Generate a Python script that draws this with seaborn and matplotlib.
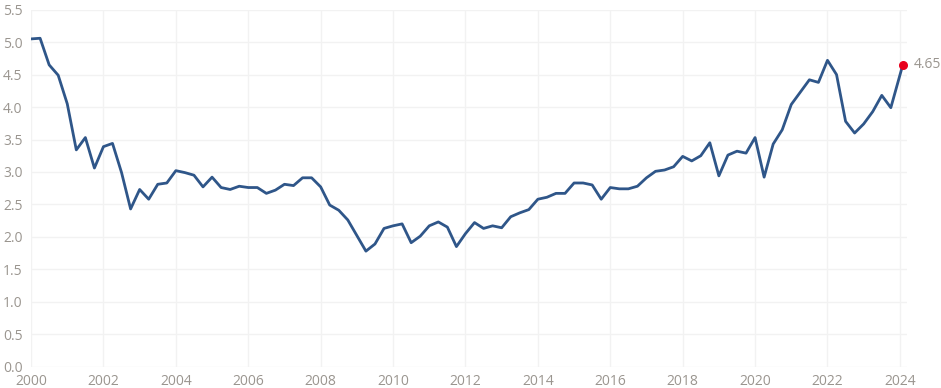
import numpy as np
import pandas as pd
import matplotlib
matplotlib.use("Agg")
import matplotlib.pyplot as plt
import matplotlib.ticker as mticker
import seaborn as sns

# Quarterly values, 2000 Q1 to 2023 Q4, plus the latest reading
values = [
    5.05, 5.06, 4.65, 4.49, 4.05, 3.34, 3.53, 3.06,
    3.39, 3.44, 2.99, 2.43, 2.73, 2.58, 2.81, 2.83,
    3.02, 2.99, 2.95, 2.77, 2.92, 2.76, 2.73, 2.78,
    2.76, 2.76, 2.67, 2.72, 2.81, 2.79, 2.91, 2.91,
    2.77, 2.49, 2.41, 2.26, 2.02, 1.78, 1.89, 2.13,
    2.17, 2.20, 1.91, 2.01, 2.17, 2.23, 2.15, 1.85,
    2.05, 2.22, 2.13, 2.17, 2.14, 2.31, 2.37, 2.42,
    2.58, 2.61, 2.67, 2.67, 2.83, 2.83, 2.80, 2.58,
    2.76, 2.74, 2.74, 2.78, 2.91, 3.01, 3.03, 3.08,
    3.24, 3.17, 3.25, 3.45, 2.94, 3.26, 3.32, 3.29,
    3.53, 2.92, 3.43, 3.65, 4.04, 4.23, 4.42, 4.38,
    4.72, 4.50, 3.78, 3.60, 3.74, 3.93, 4.18, 3.99,
    4.65,
]
dates = [2000 + q / 4 for q in range(96)] + [2024.08]

x_ticks = list(range(2000, 2025, 2))
y_ticks = [i / 2 for i in range(12)]

df = pd.DataFrame({"date": dates, "value": values})

sns.set_theme(style="white")
plt.rcParams["font.family"] = ["Open Sans", "DejaVu Sans"]

fig = plt.figure(figsize=(9.41, 3.88), dpi=100)
ax = fig.add_axes([0.033, 0.055, 0.931, 0.92])

sns.lineplot(data=df, x="date", y="value", ax=ax, color="#2f5689", linewidth=2.0)

# Highlight latest value
last = df.iloc[-1]
ax.scatter([last["date"]], [last["value"]], color="#e8001c", s=30, zorder=5)
ax.annotate(f"{last['value']:.2f}", (last["date"], last["value"]),
            xytext=(8, 0), textcoords="offset points", va="center", ha="left",
            color="#9a958f", fontsize=10)

ax.set_xlim(2000, 2024.2)
ax.set_ylim(0, 5.5)
ax.set_xticks(x_ticks)
ax.set_yticks(y_ticks)
ax.yaxis.set_major_formatter(mticker.FormatStrFormatter("%.1f"))
ax.grid(True, color="#f2f2f2", linewidth=1)
ax.set_axisbelow(True)
for s in ax.spines.values():
    s.set_visible(False)
ax.tick_params(axis="both", length=0, labelsize=10, labelcolor="#9a958f")
ax.tick_params(axis="y", pad=6)
ax.tick_params(axis="x", pad=5)
ax.set_xlabel("")
ax.set_ylabel("")

fig.savefig("out.png", dpi=100)
